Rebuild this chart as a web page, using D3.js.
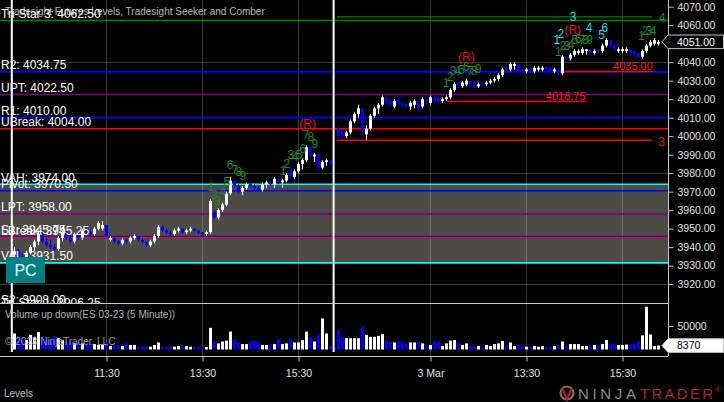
<!DOCTYPE html>
<html><head><meta charset="utf-8">
<script src="https://cdn.jsdelivr.net/npm/d3@7"></script>
<style>
html,body{margin:0;padding:0;background:#000;overflow:hidden}
svg{display:block}
text{font-family:"Liberation Sans",Arial,sans-serif}
</style>
</head><body>
<svg id="c" width="724" height="402"></svg>
<script>
// ---------- DATA ----------
const opens = [3936,3938,3935,3933,3937,3940,3943,3947,3943,3941,3940,3939,3945,3948,3945,3943,3947,3945,3949,3948,3947,3950,3950,3952,3944,3945,3943,3942,3944,3943,3945,3946,3944,3943,3941,3943,3946,3951,3949,3948,3947,3949,3950,3948,3949,3950,3949,3948,3947,3948,3959,3956,3960,3963,3969,3976,3973,3970,3972,3974,3973,3972,3971,3974,3975,3974,3977,3975,3976,3981,3978,3981,3985,3987,3994,3989,3990,3983,3986,3987,3986,
4004,4003,4000,4002,4008,4012,4015,4001,4004,4011,4015,4017,4021,4019,4016,4020,4018,4017,4016,4017,4019,4016,4020,4018,4021,4021,4019,4020,4021,4025,4029,4027,4028,4030,4029,4027,4029,4028,4029,4030,4031,4033,4037,4036,4038,4039,4036,4035,4037,4035,4036,4036,4037,4037,4035,4036,4034,4043,4042,4044,4045,4045,4046,4047,4045,4047,4046,4049,4052,4049,4046,4046,4046,4047,4046,4045,4043,4046,4049,4050,4050];
const highs = [3940,3939,3937,3938,3941,3944,3949,3948,3946,3944,3942,3946,3949,3949,3947,3948,3948,3950,3952,3950,3951,3954,3954,3952,3946,3946,3944,3945,3945,3946,3947,3946,3945,3943,3944,3947,3952,3952,3950,3949,3950,3951,3950,3950,3951,3950,3949,3948,3949,3966,3960,3961,3964,3970,3978,3976,3974,3973,3975,3975,3974,3973,3975,3976,3976,3978,3977,3977,3980,3984,3982,3986,3988,3995,3994,3991,3990,3987,3988,3987,3986,
4005,4004,4003,4009,4013,4017,4015,4006,4012,4016,4018,4022,4021,4020,4020,4021,4018,4018,4019,4020,4019,4021,4020,4022,4022,4021,4021,4022,4026,4029,4029,4030,4031,4030,4029,4029,4029,4030,4031,4032,4034,4037,4038,4040,4040,4039,4037,4037,4037,4038,4038,4038,4038,4037,4037,4036,4044,4043,4045,4047,4047,4048,4047,4047,4047,4047,4050,4053,4052,4050,4048,4048,4048,4047,4046,4045,4047,4050,4052,4053,4052];
const lows = [3933,3934,3932,3932,3936,3938,3941,3942,3940,3939,3938,3938,3943,3944,3942,3942,3944,3944,3947,3946,3946,3949,3949,3945,3943,3942,3941,3941,3942,3942,3944,3943,3942,3940,3940,3942,3945,3948,3947,3946,3946,3948,3947,3947,3948,3948,3947,3946,3946,3947,3955,3955,3959,3962,3968,3972,3969,3968,3971,3972,3971,3970,3970,3972,3973,3972,3974,3972,3975,3977,3977,3980,3982,3986,3988,3986,3981,3982,3984,3984,3984,
3999,3999,3999,4001,4007,4010,4001,3998,4003,4010,4012,4016,4017,4016,4015,4017,4015,4015,4014,4015,4013,4015,4017,4017,4018,4018,4018,4019,4020,4024,4026,4026,4027,4027,4026,4026,4027,4027,4028,4029,4030,4032,4035,4035,4036,4034,4034,4034,4035,4034,4035,4035,4035,4034,4034,4033,4033,4041,4041,4043,4044,4044,4044,4045,4044,4045,4045,4048,4048,4046,4045,4045,4045,4044,4043,4042,4042,4045,4048,4049,4049];
const closes = [3938,3935,3933,3937,3940,3943,3947,3943,3941,3940,3939,3945,3948,3945,3943,3947,3945,3949,3948,3947,3950,3953,3952,3946,3945,3943,3942,3944,3943,3945,3946,3944,3943,3941,3943,3946,3951,3949,3948,3947,3949,3950,3948,3949,3950,3949,3948,3947,3948,3965,3956,3960,3963,3969,3976,3973,3970,3972,3974,3973,3972,3971,3974,3975,3974,3977,3975,3976,3979,3978,3981,3985,3987,3994,3989,3990,3983,3986,3987,3985,3985,
4000,4000,4002,4008,4012,4015,4003,4004,4011,4015,4017,4021,4018,4017,4019,4018,4016,4016,4018,4019,4015,4020,4019,4021,4019,4019,4020,4021,4025,4028,4027,4029,4030,4028,4027,4028,4028,4029,4030,4031,4033,4036,4036,4039,4039,4035,4035,4036,4036,4037,4037,4037,4036,4035,4036,4034,4043,4042,4044,4046,4046,4047,4047,4046,4046,4046,4049,4052,4049,4047,4047,4047,4047,4045,4044,4043,4046,4049,4051,4052,4051];
const volumes = [34000,29000,20000,20000,31000,27000,37000,22000,27000,20000,29000,24000,20000,15000,17000,13000,17000,13000,9600,11500,11500,9600,10500,13000,7500,9600,9600,7500,13000,9600,9600,6000,7500,6000,6000,9600,15000,5000,5000,6000,6000,7500,9600,7500,6000,5000,5000,5000,5000,46000,17000,13000,17000,19000,38000,22000,15000,11500,11500,17000,19000,17000,9600,9600,9600,11500,22000,11500,13000,22500,15000,15000,20000,38000,27000,17000,33000,66000,34000,7500,5000,
42000,27000,24000,24000,24000,24000,48500,31000,27000,27000,29000,33000,19000,17000,15000,18000,17000,13000,15000,15000,17000,13000,7500,9600,18000,17000,7500,13000,19000,20000,13000,9600,13000,7500,7500,7500,6000,9600,7500,11500,13000,18000,9600,15000,7500,9600,7500,6000,6000,7500,6000,7500,5000,5000,7500,9600,17000,7500,11500,11500,11500,7500,7500,7500,9600,9600,11500,20000,11500,11500,9600,9600,10500,9600,13000,17000,30000,91000,32000,7500,8370];

// 4050.00 is hidden behind the last-price marker in the reference
const priceTicks = [4070,4060,4040,4030,4020,4010,4000,3990,3980,3970,3960,3950,3940,3930,3920];
const gridPrices = [4040,3980,3920];
const volumeTicks = [50000];
const timeTickIdx = [23,47,71,104,128,152];
const timeTickLabels = ["11:30","13:30","15:30","3 Mar","13:30","15:30"];
const sessionBreakIdx = [-0.55,79.9];

const levelNames  = ["Tri-Star 3","R2","UPT","R1","UBreak","VAH","Pivot","LPT","S1","LBreak","VAL","S2","Tri-Star 1"];
const levelValues = [4062.50,4034.75,4022.50,4010.00,4004.00,3974.00,3970.50,3958.00,3945.75,3945.25,3931.50,3908.00,3906.25];
const levelColors = ["#008000","#0000ff","#800080","#0000ff","#ff0000","#00ffff","#0000ff","#800080","#0000ff","#ff0000","#00ffff","#0000ff","#008000"];

const segPrices = [4064.5,3997.75,4018.75,4035.00];
const segStart  = [80.8,80.8,108.2,136.1];
const segEnd    = [159.5,159.5,142.9,159.7];
const segColors = ["#008000","#ff0000","#ff0000","#ff0000"];
const segLabels = ["","","4018.75","4035.00"];

const annText  = ["1","2","3","4","5","6","7","8","9",
                  "1","2","3","4","5","6","7","8","9","(R)",
                  "1","2","3","4","5","6","7","8","9","(R)",
                  "1","2","3","4","5","6","7","8","9",
                  "1","2","3","4","5","6","(R)",
                  "1","2","3","4","4","3"];
const annIdx   = [49.2,50.1,50.9,52.2,53.2,54,55.2,56.2,57.2,
                  67.3,68.2,69.2,70.2,71.2,72.2,73,74.2,75.2,73.4,
                  108,109,109.8,110.9,111.9,113,114,115,116.1,113.1,
                  136.1,137.2,138.2,139.2,140.2,141.1,142,142.9,143.9,
                  135.7,136.7,139.8,143.8,146.9,147.7,139.7,
                  156.9,157.8,158.8,159.8,162.1,161.9];
const annPrice = [3972.8,3968.5,3965.3,3969.8,3975.4,3984.4,3981.9,3980.8,3978.4,
                  3981.5,3985.3,3990.0,3989.0,3990.2,3993.4,4000.6,3999.7,3996.1,4006.6,
                  4028.8,4032.1,4035.4,4035.4,4035.8,4037.6,4035.6,4035.6,4036.7,4043,
                  4045.8,4049,4049,4049.6,4052,4052.8,4052,4052,4052,
                  4052,4055.6,4064.6,4058.6,4054.7,4058.6,4057.4,
                  4054.4,4057.2,4057.2,4057.2,4064.3,3997.2];
const annKind  = ["g","g","g","g","g","g","g","g","g",
                  "g","g","g","g","g","g","g","g","g","r",
                  "g","g","g","g","g","g","g","g","g","r",
                  "g","g","g","g","g","g","g","g","g",
                  "c","c","c","c","c","c","r",
                  "g","g","g","g","g","r"];

// ---------- LAYOUT ----------
const W = 724, H = 402;
const plotRight = 668, priceBottom = 303, volTop = 303, volBottom = 356;
const x  = d3.scaleLinear().domain([0,161]).range([14,658]);
const y  = d3.scaleLinear().domain([3920,4070]).range([284.1,6.7]);
const yv = d3.scaleLinear().domain([0,50000]).range([349.5,326]);
const gridColor = "rgba(200,200,200,0.28)";
const upColor = "#ffffff", downColor = "#0000ff";
const annColor = {g:"#1c8c1c", c:"#19d9f2", r:"#e51010"};

const svg = d3.select("#c");
svg.append("rect").attr("width",W).attr("height",H).attr("fill","#000");

const defs = svg.append("defs");
defs.append("clipPath").attr("id","clipP").append("rect").attr("x",0).attr("y",0).attr("width",plotRight).attr("height",priceBottom);
defs.append("clipPath").attr("id","clipV").append("rect").attr("x",0).attr("y",volTop).attr("width",plotRight).attr("height",volBottom-volTop);

// ---------- PRICE PANEL ----------
const gp = svg.append("g").attr("clip-path","url(#clipP)");
const vah = levelValues[levelNames.indexOf("VAH")], val = levelValues[levelNames.indexOf("VAL")];
gp.append("rect").attr("x",0).attr("width",plotRight).attr("y",y(vah)).attr("height",y(val)-y(vah)).attr("fill","#4c4b46");

// grid
gp.selectAll(".hg").data(gridPrices).join("line")
  .attr("x1",0).attr("x2",plotRight).attr("y1",d=>Math.round(y(d))+0.5).attr("y2",d=>Math.round(y(d))+0.5)
  .attr("stroke",gridColor).attr("stroke-width",1);
gp.selectAll(".vg").data(timeTickIdx).join("line")
  .attr("x1",d=>x(d)+0.5).attr("x2",d=>x(d)+0.5).attr("y1",0).attr("y2",priceBottom)
  .attr("stroke",gridColor).attr("stroke-width",1);

// level lines
gp.selectAll(".lvl").data(levelValues).join("line")
  .attr("x1",0).attr("x2",plotRight).attr("y1",d=>y(d)).attr("y2",d=>y(d))
  .attr("stroke",(d,i)=>levelColors[i]).attr("stroke-width",(d,i)=>levelColors[i]==="#ff0000"?1.3:1.6);

// short segments
segPrices.forEach((p,i)=>{
  gp.append("line").attr("x1",x(segStart[i])).attr("x2",x(segEnd[i])).attr("y1",y(p)).attr("y2",y(p))
    .attr("stroke",segColors[i]).attr("stroke-width",1.4);
  if(segLabels[i]) gp.append("text").attr("x",x(segEnd[i])).attr("y",y(p)-1.5).attr("text-anchor","end")
    .attr("fill","#ff1a1a").style("font-size","11px").text(segLabels[i]);
});

// candles
const idx = d3.range(opens.length);
gp.selectAll(".wick").data(idx).join("line")
  .attr("x1",i=>x(i)+0.5).attr("x2",i=>x(i)+0.5).attr("y1",i=>y(highs[i])).attr("y2",i=>y(lows[i]))
  .attr("stroke",i=>closes[i]>=opens[i]?upColor:downColor).attr("stroke-width",1);
gp.selectAll(".body").data(idx).join("rect")
  .attr("x",i=>x(i)-1).attr("width",3)
  .attr("y",i=>y(Math.max(opens[i],closes[i])))
  .attr("height",i=>Math.max(1.2,Math.abs(y(opens[i])-y(closes[i]))))
  .attr("fill",i=>closes[i]>=opens[i]?upColor:downColor);

// session lines
gp.selectAll(".sess").data(sessionBreakIdx).join("line")
  .attr("x1",d=>x(d)).attr("x2",d=>x(d)).attr("y1",0).attr("y2",priceBottom)
  .attr("stroke","#fff").attr("stroke-width",2);

// annotations
gp.selectAll(".ann").data(annText).join("text")
  .attr("x",(d,i)=>x(annIdx[i])).attr("y",(d,i)=>y(annPrice[i])).attr("dy","0.36em")
  .attr("text-anchor","middle").attr("fill",(d,i)=>annColor[annKind[i]])
  .style("font-size","12px").text(d=>d);

// title & level labels
gp.append("text").attr("x",5).attr("y",15).attr("fill","#b8b8b8").style("font-size","10px")
  .text("Tradesight Futures Levels, Tradesight Seeker and Comber");
gp.selectAll(".lbl").data(levelValues).join("text")
  .attr("x",1).attr("y",d=>y(d)-2.5).attr("fill","#fff").style("font-size","12px")
  .text((d,i)=>levelNames[i]+": "+d3.format(".2f")(d));

// PC box
gp.append("rect").attr("x",6).attr("y",257).attr("width",39).attr("height",26).attr("fill","#008080");
gp.append("text").attr("x",25.5).attr("y",276).attr("text-anchor","middle").attr("fill","#e8ffff").style("font-size","16px").text("PC");

// ---------- VOLUME PANEL ----------
const gv = svg.append("g").attr("clip-path","url(#clipV)");
gv.append("rect").attr("x",0).attr("y",volTop).attr("width",plotRight).attr("height",volBottom-volTop).attr("fill","#000");
gv.selectAll(".vg").data(timeTickIdx).join("line")
  .attr("x1",d=>x(d)+0.5).attr("x2",d=>x(d)+0.5).attr("y1",volTop).attr("y2",volBottom)
  .attr("stroke",gridColor);
gv.selectAll(".vol").data(idx).join("rect")
  .attr("x",i=>x(i)-1).attr("width",3)
  .attr("y",i=>yv(volumes[i])).attr("height",i=>yv(0)-yv(volumes[i]))
  .attr("fill",i=>closes[i]>=opens[i]?upColor:downColor);
gv.selectAll(".sess").data(sessionBreakIdx).join("line")
  .attr("x1",d=>x(d)).attr("x2",d=>x(d)).attr("y1",volTop).attr("y2",volBottom-4)
  .attr("stroke","#fff").attr("stroke-width",2);
gv.append("text").attr("x",5).attr("y",318).attr("fill","#b4b4b4").style("font-size","10px").text("Volume up down(ES 03-23 (5 Minute))");
gv.append("text").attr("x",5).attr("y",345).attr("fill","#9a9a9a").style("font-size","10px").text("\u00a9 2023 NinjaTrader, LLC");

// ---------- FRAME ----------
svg.append("line").attr("x1",0).attr("x2",plotRight).attr("y1",volTop+0.5).attr("y2",volTop+0.5).attr("stroke","#c8c8c8");
svg.append("line").attr("x1",0).attr("x2",plotRight).attr("y1",volBottom+0.5).attr("y2",volBottom+0.5).attr("stroke","#c8c8c8");
svg.append("line").attr("x1",plotRight+0.5).attr("x2",plotRight+0.5).attr("y1",0).attr("y2",volBottom).attr("stroke","#c8c8c8");

// ---------- AXES ----------
const ay = svg.append("g").attr("transform",`translate(${plotRight+0.5},0)`)
  .call(d3.axisRight(y).tickValues(priceTicks).tickFormat(d3.format(".2f")).tickSize(5).tickPadding(4));
const avy = svg.append("g").attr("transform",`translate(${plotRight+0.5},0)`)
  .call(d3.axisRight(yv).tickValues(volumeTicks).tickFormat(d3.format("d")).tickSize(5).tickPadding(4));
const ax = svg.append("g").attr("transform",`translate(0.5,${volBottom+0.5})`)
  .call(d3.axisBottom(x).tickValues(timeTickIdx).tickFormat((d,i)=>timeTickLabels[i]).tickSize(5).tickPadding(8));
[ay,avy,ax].forEach(a=>{
  a.select(".domain").remove();
  a.selectAll("line").attr("stroke","#c8c8c8");
  a.selectAll("text").attr("fill","#e4e4e4").style("font-size","10.5px").style("font-family","'Liberation Sans',Arial,sans-serif");
});

// last-value markers
const lastI = closes.length-1;
function marker(yy, fill, stroke, txtColor, label){
  const g = svg.append("g");
  g.append("path").attr("d",`M${plotRight-6},${yy} L${plotRight},${yy-6.8} L723.5,${yy-6.8} L723.5,${yy+6.8} L${plotRight},${yy+6.8} Z`)
    .attr("fill",fill).attr("stroke",stroke).attr("stroke-width",1);
  g.append("text").attr("x",677).attr("y",yy).attr("dy","0.35em").attr("fill",txtColor).style("font-size","10.5px").text(label);
}
marker(y(closes[lastI]),"#000","#c8c8c8","#ffffff",d3.format(".2f")(closes[lastI]));
marker(yv(volumes[lastI]),"#ffffff","#c8c8c8","#000000",String(volumes[lastI]));

// footer
svg.append("text").attr("x",4).attr("y",397).attr("fill","#c4c4c4").style("font-size","10px").text("Levels");
const logo = svg.append("g");
logo.append("circle").attr("cx",567).attr("cy",393).attr("r",6.5).attr("fill","none").attr("stroke","#7a7068").attr("stroke-width",2.2);
logo.append("path").attr("d","M562,388 L567,399 L572,388").attr("fill","none").attr("stroke","#b02020").attr("stroke-width",2.2);
logo.append("text").attr("x",578).attr("y",399).attr("fill","#8e8e8e").style("font-size","15px").style("font-weight","300")
  .attr("textLength",58).attr("lengthAdjust","spacing").text("NINJA");
logo.append("text").attr("x",640).attr("y",399).attr("fill","#a82828").style("font-size","15px").style("font-weight","300")
  .attr("textLength",73).attr("lengthAdjust","spacing").text("TRADER");
logo.append("text").attr("x",715).attr("y",392).attr("fill","#a82828").style("font-size","8px").text("\u00ae");
</script>
</body></html>
